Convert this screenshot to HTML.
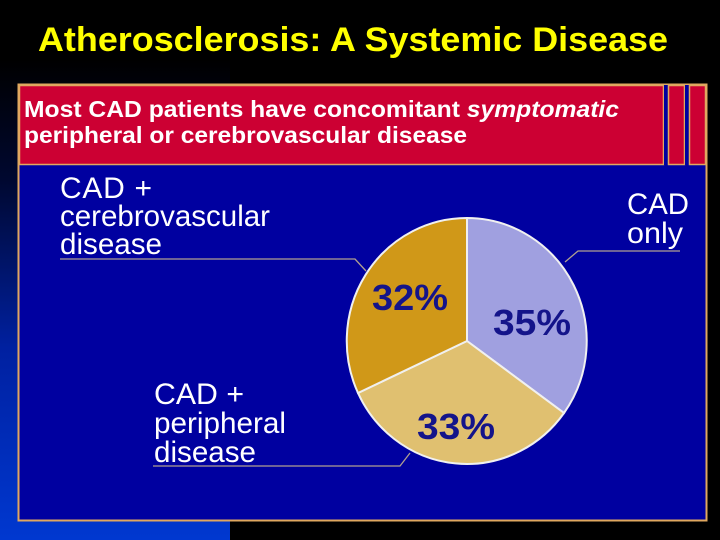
<!DOCTYPE html>
<html><head><meta charset="utf-8"><style>
html,body{margin:0;padding:0;background:#000;}
svg{display:block;}
</style></head><body>
<svg width="720" height="540" viewBox="0 0 720 540" xmlns="http://www.w3.org/2000/svg" font-family="Liberation Sans, Arial, sans-serif">
<defs>
<linearGradient id="bg" x1="0" y1="0" x2="0" y2="1">
<stop offset="0" stop-color="#000"/>
<stop offset="0.25" stop-color="#000830"/>
<stop offset="0.6" stop-color="#0020a0"/>
<stop offset="1" stop-color="#0038d0"/>
</linearGradient>
</defs>
<rect width="720" height="540" fill="#000"/>
<rect x="0" y="60" width="230" height="480" fill="url(#bg)"/>
<text x="38" y="51" font-size="34" font-weight="bold" fill="#ffff00" textLength="630" lengthAdjust="spacingAndGlyphs">Atherosclerosis: A Systemic Disease</text>
<rect x="18.5" y="84.5" width="688" height="436" fill="#0000a0" stroke="#e0a860" stroke-width="2"/>
<rect x="19.5" y="85.5" width="644" height="79" fill="#cc0033" stroke="#e0a860" stroke-width="1.5"/>
<rect x="664" y="85" width="4" height="80" fill="#0000a0"/>
<rect x="668.5" y="85.5" width="16" height="79" fill="#cc0033" stroke="#e0a860" stroke-width="1.5"/>
<rect x="685" y="85" width="4" height="80" fill="#0000a0"/>
<rect x="689.5" y="85.5" width="16" height="79" fill="#cc0033" stroke="#e0a860" stroke-width="1.5"/>
<text x="24" y="117" font-size="23" font-weight="bold" fill="#fff" textLength="595" lengthAdjust="spacingAndGlyphs">Most CAD patients have concomitant <tspan font-style="italic">symptomatic</tspan></text>
<text x="24" y="143" font-size="23" font-weight="bold" fill="#fff" textLength="443" lengthAdjust="spacingAndGlyphs">peripheral or cerebrovascular disease</text>

<g font-size="30" fill="#fff" lengthAdjust="spacingAndGlyphs">
<text x="60" y="198" textLength="92">CAD +</text>
<text x="60" y="226" textLength="210" lengthAdjust="spacingAndGlyphs">cerebrovascular</text>
<text x="60" y="254" textLength="102" lengthAdjust="spacingAndGlyphs">disease</text>
<text x="627" y="214" textLength="62" lengthAdjust="spacingAndGlyphs">CAD</text>
<text x="627" y="243" textLength="56" lengthAdjust="spacingAndGlyphs">only</text>
<text x="154" y="404" textLength="90" lengthAdjust="spacingAndGlyphs">CAD +</text>
<text x="154" y="433" textLength="132" lengthAdjust="spacingAndGlyphs">peripheral</text>
<text x="154" y="462" textLength="102" lengthAdjust="spacingAndGlyphs">disease</text>
</g>
<g stroke="#b0a090" stroke-width="1.3" fill="none">
<polyline points="60,259 355,259 366,271"/>
<polyline points="565,262 578,251 680,251"/>
<polyline points="153,466 400,466 410,453"/>
</g>

<g stroke="#f0f0f0" stroke-width="2">
<path d="M467,341 L467,218 A120,123 0 0,1 564,413 Z" fill="#a0a0e0"/>
<path d="M467,341 L564,413 A120,123 0 0,1 358,393 Z" fill="#e0c070"/>
<path d="M467,341 L358,393 A120,123 0 0,1 467,218 Z" fill="#d09818"/>
</g>
<g font-size="36" font-weight="bold" fill="#14148a">
<text x="372" y="310" textLength="76" lengthAdjust="spacingAndGlyphs">32%</text>
<text x="493" y="335" textLength="78" lengthAdjust="spacingAndGlyphs">35%</text>
<text x="417" y="439" textLength="78" lengthAdjust="spacingAndGlyphs">33%</text>
</g>
</svg>
</body></html>
